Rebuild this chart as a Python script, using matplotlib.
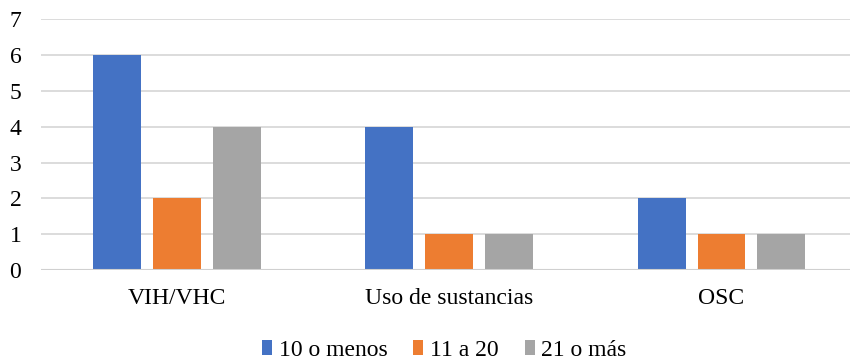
import matplotlib.pyplot as plt
import numpy as np

plt.rcParams['font.family'] = ['Liberation Serif', 'DejaVu Serif']

categories = ['VIH/VHC', 'Uso de sustancias', 'OSC']
series_names = ['10 o menos', '11 a 20', '21 o más']
menos10 = [6, 4, 2]
de11a20 = [2, 1, 1]
mas21 = [4, 1, 1]
colors = ['#4472C4', '#ED7D31', '#A5A5A5']

fig = plt.figure(figsize=(8.5, 3.6), dpi=100)
# plot area runs slightly past the right edge of the canvas
ax = fig.add_axes([0.048, 0.25, 0.961, 0.696])

x = np.arange(len(categories))
width = 0.176
step = 0.22
for i, (vals, name) in enumerate(zip([menos10, de11a20, mas21], series_names)):
    ax.bar(x + (i - 1) * step, vals, width, color=colors[i], label=name, zorder=3)

ax.set_xlim(-0.5, 2.5)
ax.set_ylim(0, 7)
ax.set_yticks(range(0, 8))
ax.set_xticks(x)
ax.set_xticklabels(categories)
ax.grid(axis='y', color='#D9D9D9', linewidth=1.3, zorder=0)
ax.axhline(0, color='#D0D0D0', linewidth=1.5, zorder=4)
for s in ax.spines.values():
    s.set_visible(False)
ax.tick_params(axis='both', length=0, labelsize=17)
ax.tick_params(axis='y', pad=14)
ax.tick_params(axis='x', pad=13)

ax.legend(loc='center', bbox_to_anchor=(0.494, -0.322), ncol=3, frameon=False,
          fontsize=17, handlelength=0.42, handleheight=0.6, handletextpad=0.28,
          columnspacing=1.1, borderpad=0)

fig.savefig('out.png', dpi=100)
